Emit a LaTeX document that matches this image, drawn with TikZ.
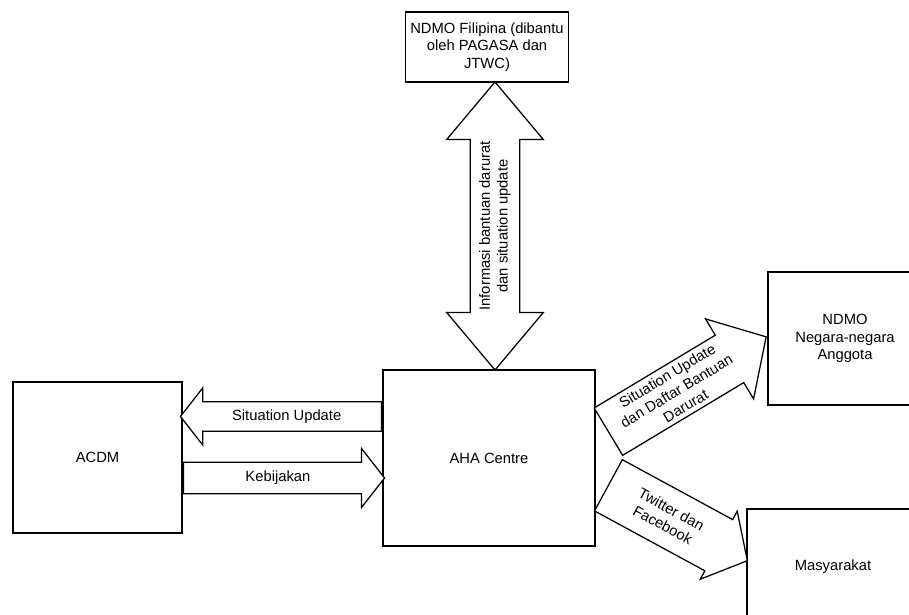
\documentclass[tikz,border=0pt]{standalone}
\usepackage{fontspec}
\setmainfont{Liberation Sans}
\usetikzlibrary{shapes.arrows,calc}

\tikzset{
  box/.style={draw, line width=1.2pt, fill=white, align=center, font=\fontsize{10.5}{12.6}\selectfont},
  blockarrow/.style={single arrow, draw, line width=0.9pt, fill=white, inner sep=0pt, font=\fontsize{10.5}{12.6}\selectfont},
}
% fixed size box for the text inside an arrow
\newcommand{\arrowtext}[3]{\parbox[c][#2][c]{#1}{\centering #3}}

\begin{document}
\begin{tikzpicture}[x=0.025cm, y=-0.025cm]
\useasboundingbox (0,0) rectangle (909,615);

% Draw the boxes
\node[box, minimum width=4.05cm, minimum height=1.75cm] (ndmoph) at (487,47) {NDMO Filipina (dibantu\\oleh PAGASA dan\\JTWC)};
\node[box, minimum width=5.3cm, minimum height=4.4cm] (aha) at (489,458) {AHA Centre};
\node[box, minimum width=4.225cm, minimum height=3.775cm] (acdm) at (97.5,457.5) {ACDM};
\node[box, minimum width=3.85cm, minimum height=3.325cm] (anggota) at (845,338.5) {NDMO\\Negara-negara\\Anggota};
\node[box, minimum width=4.3cm, minimum height=2.9cm] (masyarakat) at (833,567) {Masyarakat};

% Draw the arrows
\node[blockarrow, double arrow, rotate=90, double arrow tip angle=80, double arrow head extend=0.59cm, minimum height=7.2cm] (infoarrow) at ($(ndmoph.south)!0.5!(aha.north)+(7,0)$) {\arrowtext{4.9cm}{1.2cm}{Informasi bantuan darurat\\dan situation update}};
\node[blockarrow, shape border rotate=180, single arrow tip angle=104, single arrow head extend=0.35cm, minimum height=5.025cm, anchor=tail] (sitarrow) at ($(aha.west)+(0,-41.5)$) {\arrowtext{3.6cm}{0.7cm}{Situation Update}};
\node[blockarrow, single arrow tip angle=104, single arrow head extend=0.35cm, minimum height=5.025cm, anchor=tail] (kebijakan) at ($(acdm.east)+(0,20.5)$) {\arrowtext{3.6cm}{0.75cm}{Kebijakan}};
\node[blockarrow, rotate=31, single arrow tip angle=95, single arrow head extend=0.475cm, minimum height=4.6cm, anchor=tail] (updatearrow) at ($(aha.east)+(12,-26)$) {\arrowtext{3.3cm}{1.35cm}{Situation Update\\dan Daftar Bantuan\\Darurat}};
\node[blockarrow, rotate=-28.5, single arrow tip angle=100, single arrow head extend=0.24cm, minimum height=3.95cm, anchor=tail] (medsosarrow) at ($(aha.east)+(12,27)$) {\arrowtext{2.6cm}{1.425cm}{Twitter dan\\Facebook}};
\end{tikzpicture}
\end{document}
